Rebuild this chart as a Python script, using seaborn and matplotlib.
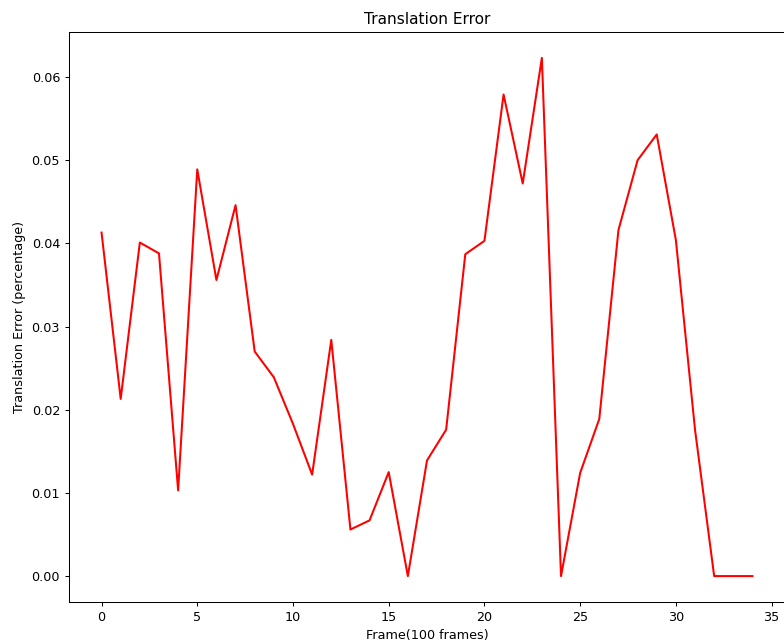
import matplotlib
matplotlib.use("Agg")
import matplotlib.pyplot as plt
import pandas as pd
import seaborn as sns

# Translation error per block of 100 frames
frames = list(range(35))
errors = [
    0.0413, 0.0213, 0.0401, 0.0388, 0.0103, 0.0489, 0.0356, 0.0446,
    0.0270, 0.0239, 0.0183, 0.0122, 0.0284, 0.0056, 0.0067, 0.0125,
    0.0000, 0.0139, 0.0176, 0.0387, 0.0403, 0.0579, 0.0472, 0.0623,
    0.0000, 0.0124, 0.0189, 0.0416, 0.0500, 0.0531, 0.0404, 0.0176,
    0.0000, 0.0000, 0.0000,
]

title = "Translation Error"
x_label = "Frame(100 frames)"
y_label = "Translation Error (percentage)"
y_ticks = [0.00, 0.01, 0.02, 0.03, 0.04, 0.05, 0.06]
x_ticks = [0, 5, 10, 15, 20, 25, 30, 35]

df = pd.DataFrame({"frame": frames, "error": errors})

DPI = 92
W, H = 784, 643
fig = plt.figure(figsize=(W / DPI, H / DPI), dpi=DPI)
ax = fig.add_axes([69 / W, 41 / H, 716 / W, 570 / H])

sns.lineplot(data=df, x="frame", y="error", color="red", linewidth=1.6, ax=ax)

ax.set_title(title, fontsize=12)
ax.set_xlabel(x_label, fontsize=10)
ax.set_ylabel(y_label, fontsize=10)
ax.set_xticks(x_ticks)
ax.set_yticks(y_ticks)
ax.set_yticklabels([f"{v:.2f}" for v in y_ticks])

fig.savefig("out.png", dpi=DPI)
